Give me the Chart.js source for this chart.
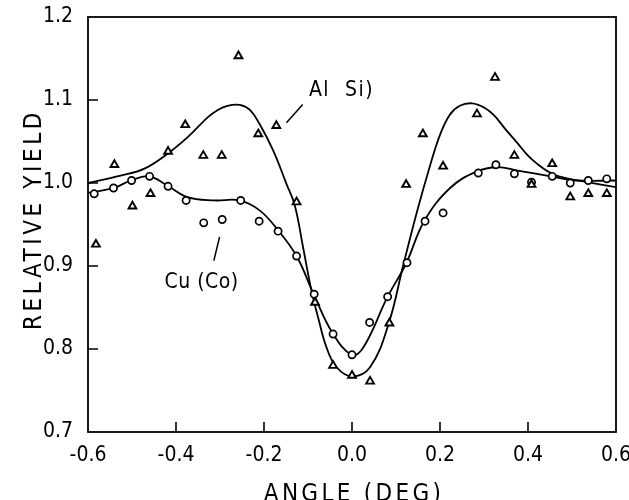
<!DOCTYPE html>
<html>
<head>
<meta charset="utf-8">
<script src="https://cdn.jsdelivr.net/npm/chart.js@4.4.1/dist/chart.umd.min.js"></script>
<style>
  html, body { margin: 0; padding: 0; background: #fff; }
  #wrap { width: 629px; height: 500px; }
</style>
</head>
<body>
<div id="wrap"><canvas id="yieldChart"></canvas></div>
<script>
// measured points, Al(Si) - triangles
const angleAl = [-0.582, -0.540, -0.499, -0.458, -0.418, -0.379, -0.338, -0.296, -0.258, -0.213,
                 -0.172, -0.126, -0.084, -0.043, 0.000, 0.041, 0.085, 0.123, 0.161, 0.207,
                 0.284, 0.325, 0.369, 0.408, 0.455, 0.496, 0.537, 0.579];
const yieldAl = [0.926, 1.022, 0.972, 0.987, 1.038, 1.070, 1.033, 1.033, 1.153, 1.059,
                 1.069, 0.977, 0.856, 0.780, 0.768, 0.761, 0.831, 0.998, 1.059, 1.020,
                 1.083, 1.127, 1.033, 0.998, 1.023, 0.983, 0.987, 0.987];

// measured points, Cu(Co) - circles
const angleCu = [-0.586, -0.542, -0.501, -0.460, -0.418, -0.377, -0.337, -0.295, -0.253, -0.211,
                 -0.168, -0.126, -0.086, -0.043, 0.000, 0.040, 0.081, 0.125, 0.166, 0.207,
                 0.287, 0.327, 0.369, 0.408, 0.455, 0.496, 0.537, 0.579];
const yieldCu = [0.987, 0.994, 1.003, 1.008, 0.996, 0.979, 0.952, 0.956, 0.979, 0.954,
                 0.942, 0.912, 0.866, 0.818, 0.793, 0.832, 0.863, 0.904, 0.954, 0.964,
                 1.012, 1.022, 1.011, 1.001, 1.008, 1.000, 1.003, 1.005];

// fitted curves
const curveAlX = [-0.600, -0.526, -0.473, -0.420, -0.374, -0.328, -0.305, -0.283, -0.255, -0.232,
                  -0.210, -0.179, -0.149, -0.130, -0.111, -0.092, -0.077, -0.058, -0.035, 0.000,
                  0.041, 0.083, 0.117, 0.148, 0.178, 0.200, 0.222, 0.245, 0.273, 0.300,
                  0.322, 0.350, 0.376, 0.400, 0.421, 0.445, 0.470, 0.535, 0.600];
const curveAlY = [1.000, 1.009, 1.017, 1.035, 1.055, 1.079, 1.088, 1.093, 1.094, 1.088,
                  1.071, 1.039, 0.999, 0.973, 0.922, 0.870, 0.838, 0.802, 0.778, 0.767,
                  0.778, 0.830, 0.902, 0.966, 1.022, 1.058, 1.082, 1.093, 1.096, 1.091,
                  1.082, 1.064, 1.048, 1.033, 1.023, 1.014, 1.008, 1.001, 0.995];

const curveCuX = [-0.600, -0.541, -0.503, -0.461, -0.420, -0.374, -0.313, -0.256, -0.210, -0.168,
                  -0.126, -0.087, -0.044, 0.000, 0.026, 0.081, 0.123, 0.164, 0.223, 0.284,
                  0.330, 0.376, 0.452, 0.512, 0.600];
const curveCuY = [0.988, 0.994, 1.003, 1.008, 0.997, 0.983, 0.979, 0.979, 0.967, 0.943,
                  0.912, 0.866, 0.819, 0.793, 0.802, 0.863, 0.903, 0.954, 0.994, 1.014,
                  1.019, 1.015, 1.008, 1.003, 1.003];

const xTicks = [-0.6, -0.4, -0.2, 0.0, 0.2, 0.4, 0.6];
const yTicks = [0.7, 0.8, 0.9, 1.0, 1.1, 1.2];

const FONT = '"DejaVu Sans Condensed", "DejaVu Sans", sans-serif';

function pts(xs, ys) {
    return xs.map((x, i) => ({x: x, y: ys[i]}));
}

// frame, inward ticks, axis titles and curve labels
const framePlugin = {
    id: 'frame',
    afterDraw(chart) {
        const ctx = chart.ctx;
        const a = chart.chartArea;
        const xs = chart.scales.x;
        const ys = chart.scales.y;
        ctx.save();
        ctx.strokeStyle = '#000';
        ctx.lineWidth = 1.8;
        ctx.strokeRect(a.left, a.top, a.right - a.left, a.bottom - a.top);

        ctx.lineWidth = 1.6;
        ctx.beginPath();
        xTicks.slice(1, -1).forEach(v => {
            const px = xs.getPixelForValue(v);
            ctx.moveTo(px, a.bottom);
            ctx.lineTo(px, a.bottom - 10);
        });
        yTicks.slice(1, -1).forEach(v => {
            const py = ys.getPixelForValue(v);
            ctx.moveTo(a.left, py);
            ctx.lineTo(a.left + 10, py);
        });
        ctx.stroke();

        // curve labels
        ctx.fillStyle = '#000';
        ctx.font = '21px ' + FONT;
        ctx.textAlign = 'left';
        ctx.textBaseline = 'alphabetic';
        ctx.letterSpacing = '1.5px';
        ctx.fillText('Al  Si)', xs.getPixelForValue(-0.098), ys.getPixelForValue(1.1046));
        ctx.letterSpacing = '0.5px';
        ctx.fillText('Cu (Co)', xs.getPixelForValue(-0.426), ys.getPixelForValue(0.873));
        ctx.lineWidth = 1.5;
        ctx.beginPath();
        ctx.moveTo(xs.getPixelForValue(-0.149), ys.getPixelForValue(1.0725));
        ctx.lineTo(xs.getPixelForValue(-0.112), ys.getPixelForValue(1.0945));
        ctx.moveTo(xs.getPixelForValue(-0.314), ys.getPixelForValue(0.9065));
        ctx.lineTo(xs.getPixelForValue(-0.301), ys.getPixelForValue(0.935));
        ctx.stroke();

        // axis titles
        ctx.font = '24px ' + FONT;
        ctx.textAlign = 'center';
        ctx.letterSpacing = '3.3px';
        ctx.fillText('ANGLE (DEG)', (a.left + a.right) / 2 + 2, 501);
        ctx.translate(41, (a.top + a.bottom) / 2 - 5);
        ctx.rotate(-Math.PI / 2);
        ctx.letterSpacing = '3.6px';
        ctx.fillText('RELATIVE YIELD', 0, 0);
        ctx.restore();
    }
};

const lineStyle = {
    showLine: true,
    pointRadius: 0,
    borderColor: '#000',
    borderWidth: 1.8,
    tension: 0.4,
    order: 2
};

new Chart(document.getElementById('yieldChart'), {
    type: 'scatter',
    data: {
        datasets: [
            Object.assign({label: 'Al(Si) fit', data: pts(curveAlX, curveAlY)}, lineStyle),
            Object.assign({label: 'Cu(Co) fit', data: pts(curveCuX, curveCuY)}, lineStyle),
            {
                label: 'Al(Si)',
                data: pts(angleAl, yieldAl),
                pointStyle: 'triangle',
                pointRadius: 4.5,
                borderColor: '#000',
                backgroundColor: '#fff',
                borderWidth: 1.9,
                order: 1
            },
            {
                label: 'Cu(Co)',
                data: pts(angleCu, yieldCu),
                pointStyle: 'circle',
                pointRadius: 3.6,
                borderColor: '#000',
                backgroundColor: '#fff',
                borderWidth: 1.7,
                order: 1
            }
        ]
    },
    options: {
        responsive: true,
        maintainAspectRatio: false,
        animation: false,
        layout: {padding: {left: 0, right: 13, top: 17, bottom: 0}},
        plugins: {
            legend: {display: false},
            tooltip: {enabled: false}
        },
        scales: {
            x: {
                type: 'linear',
                min: -0.6,
                max: 0.6,
                afterFit: s => { s.height = 68; s.paddingLeft = 0; s.paddingRight = 0; },
                afterBuildTicks: s => { s.ticks = xTicks.map(v => ({value: v})); },
                grid: {drawOnChartArea: false, drawTicks: false},
                border: {display: false},
                ticks: {
                    color: '#000',
                    padding: 11,
                    maxRotation: 0,
                    autoSkip: false,
                    font: {family: FONT, size: 21},
                    callback: v => v.toFixed(1)
                }
            },
            y: {
                type: 'linear',
                min: 0.7,
                max: 1.2,
                afterFit: s => { s.width = 88; s.paddingTop = 0; s.paddingBottom = 0; },
                afterBuildTicks: s => { s.ticks = yTicks.map(v => ({value: v})); },
                grid: {drawOnChartArea: false, drawTicks: false},
                border: {display: false},
                ticks: {
                    color: '#000',
                    padding: 15,
                    autoSkip: false,
                    font: {family: FONT, size: 21},
                    callback: v => v.toFixed(1)
                }
            }
        }
    },
    plugins: [framePlugin]
});
</script>
</body>
</html>
